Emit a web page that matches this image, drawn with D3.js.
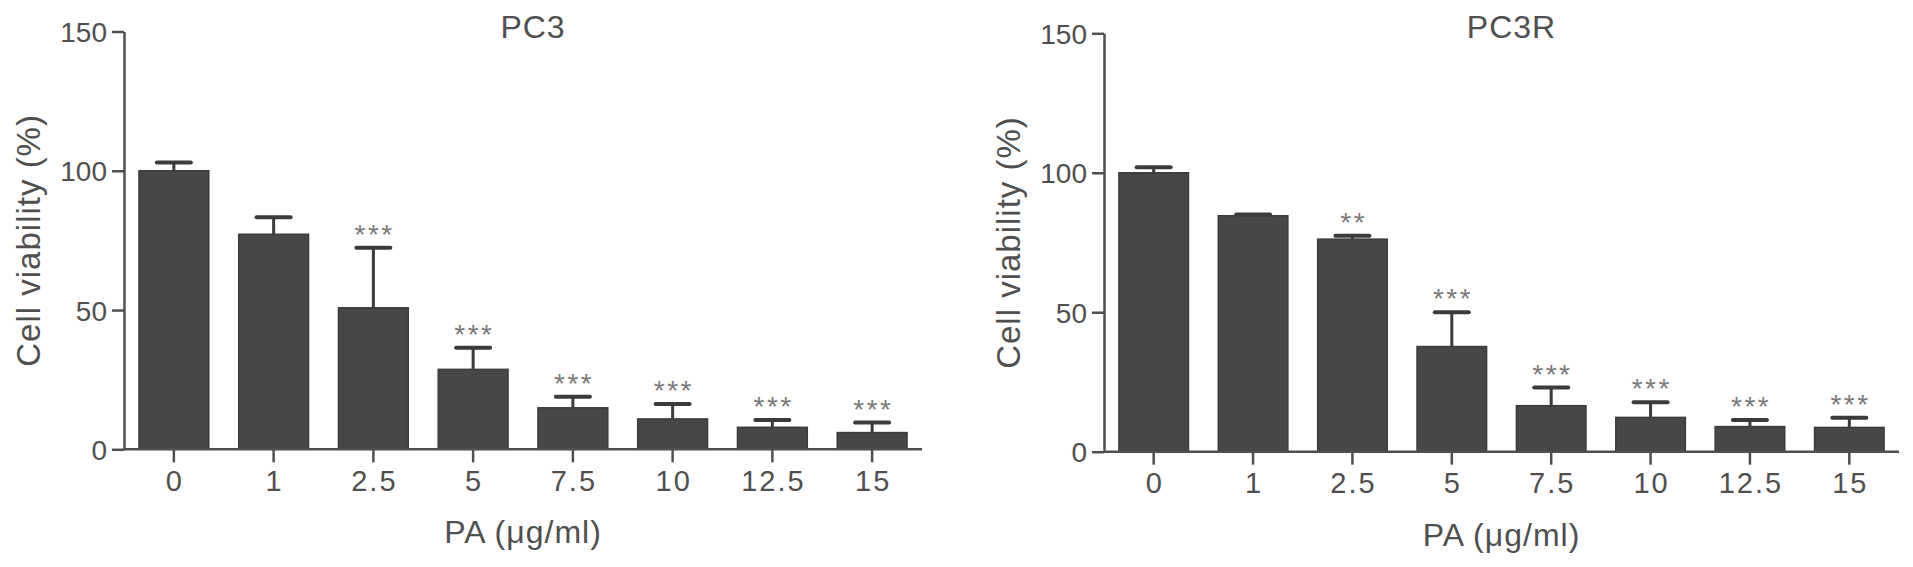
<!DOCTYPE html>
<html>
<head>
<meta charset="utf-8">
<script src="https://cdn.jsdelivr.net/npm/d3@7"></script>
<style>
  body { margin: 0; background: #fff; }
  text { font-family: "Liberation Sans", Arial, sans-serif; fill: #4f4f4f; }
</style>
</head>
<body>
<div id="chart"></div>
<script>
var svgWidth = 1913;
var svgHeight = 567;

// doses on the x axis
var doses = ["0", "1", "2.5", "5", "7.5", "10", "12.5", "15"];
var yTicks = [0, 50, 100, 150];

// PC3 panel
var pc3Mean = [100, 77.2, 50.8, 28.7, 14.9, 10.9, 7.9, 6.0];
var pc3Err = [3.0, 6.1, 21.6, 7.8, 4.0, 5.4, 2.6, 3.6];
var pc3Sig = ["", "", "***", "***", "***", "***", "***", "***"];

// PC3R panel
var pc3rMean = [100, 84.6, 76.2, 37.7, 16.5, 12.3, 9.0, 8.7];
var pc3rErr = [2.0, 0.4, 1.2, 12.3, 6.5, 5.4, 2.4, 3.5];
var pc3rSig = ["", "", "**", "***", "***", "***", "***", "***"];

var svg = d3.select("#chart")
    .append("svg")
    .attr("width", svgWidth)
    .attr("height", svgHeight);

function drawPanel(opt) {
    var x = d3.scaleBand().domain(doses).range([opt.left, opt.right]).paddingInner(0.3).paddingOuter(0.15);
    var y = d3.scaleLinear().domain([0, 150]).range([opt.bottom, opt.top]);
    var g = svg.append("g");

    var data = doses.map(function (d, i) {
        return { dose: d, mean: opt.mean[i], err: opt.err[i], sig: opt.sig[i] };
    });

    // bars
    g.selectAll("rect.bar")
        .data(data)
        .enter()
        .append("rect")
        .attr("class", "bar")
        .attr("x", d => x(d.dose))
        .attr("width", x.bandwidth())
        .attr("y", d => y(d.mean))
        .attr("height", d => y(0) - y(d.mean))
        .style("fill", "#474747")
        .style("stroke", "#3b3b3b")
        .style("stroke-width", 1.5);

    // error bars (upper only)
    g.selectAll("line.stem")
        .data(data)
        .enter()
        .append("line")
        .attr("x1", d => x(d.dose) + x.bandwidth() / 2)
        .attr("x2", d => x(d.dose) + x.bandwidth() / 2)
        .attr("y1", d => y(d.mean))
        .attr("y2", d => y(d.mean + d.err))
        .style("stroke", "#3b3b3b")
        .style("stroke-width", 3);

    g.selectAll("line.cap")
        .data(data)
        .enter()
        .append("line")
        .attr("x1", d => x(d.dose) + x.bandwidth() / 2 - 17)
        .attr("x2", d => x(d.dose) + x.bandwidth() / 2 + 17)
        .attr("y1", d => y(d.mean + d.err))
        .attr("y2", d => y(d.mean + d.err))
        .style("stroke", "#3b3b3b")
        .style("stroke-width", 4)
        .style("stroke-linecap", "round");

    // significance stars
    g.selectAll("text.sig")
        .data(data)
        .enter()
        .append("text")
        .attr("x", d => x(d.dose) + x.bandwidth() / 2)
        .attr("y", d => y(d.mean + d.err) - 4)
        .attr("dx", "1.25")
        .attr("text-anchor", "middle")
        .attr("font-size", "28px")
        .attr("letter-spacing", "2.5px")
        .style("fill", "#7a7a7a")
        .text(d => d.sig);

    // axes
    var xAxis = d3.axisBottom(x).tickSize(13).tickPadding(8).tickSizeOuter(0);
    var yAxis = d3.axisLeft(y).tickValues(yTicks).tickSize(12).tickPadding(5).tickSizeOuter(0);

    var xg = g.append("g")
        .attr("transform", `translate(0, ${opt.bottom})`)
        .call(xAxis);
    xg.select(".domain").attr("d", `M${opt.left},0H${opt.right}`);

    var yg = g.append("g")
        .attr("transform", `translate(${opt.left}, 0)`)
        .call(yAxis);

    [xg, yg].forEach(function (a) {
        a.selectAll(".domain, .tick line").style("stroke", "#4f4f4f").style("stroke-width", 2.5);
        a.selectAll("text").style("fill", "#4f4f4f").attr("font-family", "Liberation Sans, Arial, sans-serif");
    });
    xg.selectAll("text").attr("font-size", "29px").attr("letter-spacing", "2px").attr("dx", "1");
    yg.selectAll("text").attr("font-size", "28px").attr("dy", "0.36em");

    // title
    g.append("text")
        .attr("x", (opt.left + opt.right) / 2 + 10)
        .attr("y", 38)
        .attr("text-anchor", "middle")
        .attr("font-size", "32px")
        .attr("letter-spacing", "1px")
        .text(opt.title);

    // x label
    g.append("text")
        .attr("x", (opt.left + opt.right) / 2)
        .attr("y", opt.bottom + 94)
        .attr("text-anchor", "middle")
        .attr("font-size", "32px")
        .attr("letter-spacing", "1px")
        .text("PA (\u03bcg/ml)");

    // y label
    g.append("text")
        .attr("transform", `translate(${opt.ylabelX}, ${(opt.top + opt.bottom) / 2}) rotate(-90)`)
        .attr("text-anchor", "middle")
        .attr("dy", "0.35em")
        .attr("font-size", "33px")
        .attr("letter-spacing", "1px")
        .text("Cell viability (%)");
}

drawPanel({ title: "PC3", left: 124, right: 922, top: 31.5, bottom: 449.3, ylabelX: 28,
            mean: pc3Mean, err: pc3Err, sig: pc3Sig });
drawPanel({ title: "PC3R", left: 1104, right: 1899, top: 33.3, bottom: 451.7, ylabelX: 1008,
            mean: pc3rMean, err: pc3rErr, sig: pc3rSig });
</script>
</body>
</html>
